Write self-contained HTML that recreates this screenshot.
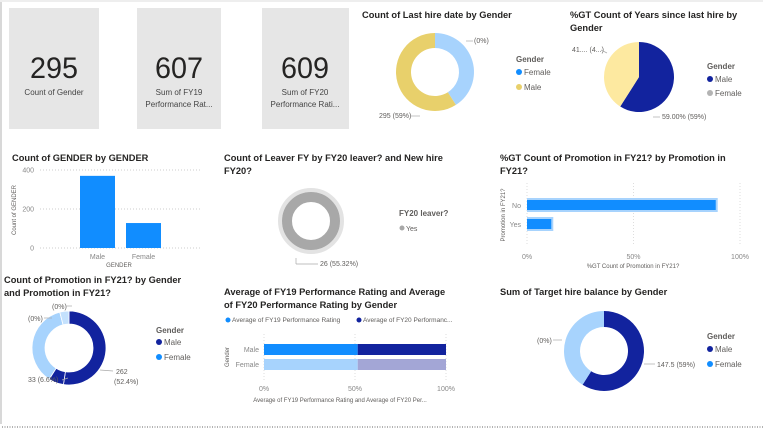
<!DOCTYPE html>
<html><head><meta charset="utf-8"><style>
html,body{margin:0;padding:0;background:#fff;}
svg{display:block;font-family:"Liberation Sans",sans-serif;}
.t{font-size:9.3px;font-weight:bold;fill:#252423;}
.s{font-size:7px;fill:#605e5c;}
.lg{font-size:8px;fill:#605e5c;}
.lt{font-size:8px;font-weight:bold;fill:#605e5c;}
.num{font-size:30px;fill:#252423;}
</style></head><body>
<svg id="c" width="763" height="428" viewBox="0 0 763 428">
<line x1="1" y1="0" x2="1" y2="424" stroke="#d8d8d8" stroke-width="2"/>
<line x1="0" y1="1" x2="763" y2="1" stroke="#eeeeee" stroke-width="2"/>
<line x1="2" y1="427" x2="763" y2="427" stroke="#666" stroke-dasharray="1,1.5"/>
<g>
<rect x="9" y="8" width="90" height="121" fill="#e6e6e6"/>
<text class="num" x="54" y="78" text-anchor="middle" textLength="48" lengthAdjust="spacingAndGlyphs">295</text>
<text x="54" y="95" text-anchor="middle" font-size="8" fill="#444">Count of Gender</text></g>
<g>
<rect x="137" y="8" width="84" height="121" fill="#e6e6e6"/>
<text class="num" x="179" y="78" text-anchor="middle" textLength="48" lengthAdjust="spacingAndGlyphs">607</text>
<text x="179" y="95" text-anchor="middle" font-size="8" fill="#444">Sum of FY19</text>
<text x="179" y="107" text-anchor="middle" font-size="8" fill="#444">Performance Rat...</text></g>
<g>
<rect x="262" y="8" width="87" height="121" fill="#e6e6e6"/>
<text class="num" x="305" y="78" text-anchor="middle" textLength="48" lengthAdjust="spacingAndGlyphs">609</text>
<text x="305" y="95" text-anchor="middle" font-size="8" fill="#444">Sum of FY20</text>
<text x="305" y="107" text-anchor="middle" font-size="8" fill="#444">Performance Rati...</text></g>

<text class="t" x="362" y="18">Count of Last hire date by Gender</text>
<g id="d1"></g>
<text class="s" x="474" y="43">(0%)</text>
<text class="s" x="379" y="118">295 (59%)</text>
<text class="lt" x="516" y="62">Gender</text>
<circle cx="519" cy="72" r="3" fill="#118dff"/><text class="lg" x="524" y="75">Female</text>
<circle cx="519" cy="87" r="3" fill="#e8d06b"/><text class="lg" x="524" y="90">Male</text>

<text class="t" x="570" y="18">%GT Count of Years since last hire by</text>
<text class="t" x="570" y="31">Gender</text>
<g id="d2"></g>
<text class="s" x="572" y="52">41.... (4...)</text>
<text class="s" x="662" y="119">59.00% (59%)</text>
<text class="lt" x="707" y="69">Gender</text>
<circle cx="710" cy="79" r="3" fill="#12239e"/><text class="lg" x="715" y="82">Male</text>
<circle cx="710" cy="93" r="3" fill="#b3b3b3"/><text class="lg" x="715" y="96">Female</text>

<text class="t" x="12" y="161">Count of GENDER by GENDER</text>
<g id="bar1"></g>
<text font-size="6" fill="#605e5c" transform="translate(16,210) rotate(-90)" text-anchor="middle">Count of GENDER</text>
<text font-size="6" fill="#605e5c" x="119" y="267" text-anchor="middle">GENDER</text>

<text class="t" x="224" y="161">Count of Leaver FY by FY20 leaver? and New hire</text>
<text class="t" x="224" y="174">FY20?</text>
<g id="d3"></g>
<text class="s" x="320" y="266">26 (55.32%)</text>
<text class="lt" x="399" y="216">FY20 leaver?</text>
<circle cx="402" cy="228" r="2.5" fill="#a8a8a8"/><text class="s" x="406" y="231">Yes</text>

<text class="t" x="500" y="161">%GT Count of Promotion in FY21? by Promotion in</text>
<text class="t" x="500" y="174">FY21?</text>
<g id="bar2"></g>
<text font-size="6" fill="#605e5c" transform="translate(505,215) rotate(-90)" text-anchor="middle">Promotion in FY21?</text>
<text font-size="6" fill="#605e5c" x="633" y="268" text-anchor="middle">%GT Count of Promotion in FY21?</text>

<text class="t" x="4" y="283">Count of Promotion in FY21? by Gender</text>
<text class="t" x="4" y="296">and Promotion in FY21?</text>
<g id="d4"></g>
<text class="s" x="52" y="309">(0%)</text>
<text class="s" x="28" y="321">(0%)</text>
<text class="s" x="28" y="382">33 (6.6%)</text>
<text class="s" x="116" y="374">262</text>
<text class="s" x="114" y="384">(52.4%)</text>
<text class="lt" x="156" y="333">Gender</text>
<circle cx="159" cy="342" r="3" fill="#12239e"/><text class="lg" x="164" y="345">Male</text>
<circle cx="159" cy="357" r="3" fill="#118dff"/><text class="lg" x="164" y="360">Female</text>

<text class="t" x="224" y="295">Average of FY19 Performance Rating and Average</text>
<text class="t" x="224" y="308">of FY20 Performance Rating by Gender</text>
<circle cx="228" cy="320" r="2.5" fill="#118dff"/><text font-size="6.5" fill="#605e5c" x="232" y="322">Average of FY19 Performance Rating</text>
<circle cx="359" cy="320" r="2.5" fill="#12239e"/><text font-size="6.5" fill="#605e5c" x="363" y="322">Average of FY20 Performanc...</text>
<g id="bar3"></g>
<text font-size="6" fill="#605e5c" transform="translate(229,357) rotate(-90)" text-anchor="middle">Gender</text>
<text font-size="6" fill="#605e5c" x="340" y="402" text-anchor="middle">Average of FY19 Performance Rating and Average of FY20 Per...</text>

<text class="t" x="500" y="295">Sum of Target hire balance by Gender</text>
<g id="d5"></g>
<text class="s" x="537" y="343">(0%)</text>
<text class="s" x="657" y="367">147.5 (59%)</text>
<text class="lt" x="707" y="339">Gender</text>
<circle cx="710" cy="349" r="3" fill="#12239e"/><text class="lg" x="715" y="352">Male</text>
<circle cx="710" cy="364" r="3" fill="#118dff"/><text class="lg" x="715" y="367">Female</text>
</svg>
<script>
const lastHireValues=[205,295];
const lastHireColors=["#a7d3fd","#e8d06b"];
const yearsValues=[59,41];
const yearsColors=["#12239e","#fde9a0"];
const leaverValues=[26];
const promoDonutValues=[262,33,185,20];
const promoDonutColors=["#12239e","#12239e","#a7d3fd","#c4e1fd"];
const targetValues=[147.5,102.5];
const targetColors=["#12239e","#a7d3fd"];
const genderCats=["Male","Female"];
const genderCounts=[370,128];
const genderTicks=[0,200,400];
const promoCats=["No","Yes"];
const promoPct=[88.6,11.4];
const pctTicks=[0,50,100];
const perfCats=["Male","Female"];
const perfFY19=[2.08,2.06];
const perfFY20=[1.96,1.94];
const NS="http://www.w3.org/2000/svg";
function el(p,t,a){const e=document.createElementNS(NS,t);for(const k in a)e.setAttribute(k,a[k]);p.appendChild(e);return e;}
function pt(cx,cy,r,a){return [cx+r*Math.sin(a),cy-r*Math.cos(a)];}
function arc(cx,cy,r0,r1,a0,a1){
 if(a1-a0>=2*Math.PI-1e-6)a1=a0+2*Math.PI-1e-4;
 const L=(a1-a0)>Math.PI?1:0;const p1=pt(cx,cy,r1,a0),p2=pt(cx,cy,r1,a1),p3=pt(cx,cy,r0,a1),p4=pt(cx,cy,r0,a0);
 let d=`M${p1}A${r1},${r1} 0 ${L} 1 ${p2}`;
 d+= r0>0?`L${p3}A${r0},${r0} 0 ${L} 0 ${p4}Z`:`L${cx},${cy}Z`;return d;}
function donut(id,cx,cy,r0,r1,vals,cols,start,sep){
 const g=document.getElementById(id);const tot=vals.reduce((a,b)=>a+b,0);let a=start;
 vals.forEach((v,i)=>{const s=v/tot*2*Math.PI;const p=el(g,"path",{d:arc(cx,cy,r0,r1,a,a+s),fill:cols[i]});
 if(sep){p.setAttribute("stroke","#fff");p.setAttribute("stroke-width","0.8");}
 
 
 a+=s;});}
donut("d1",435,72,24,39,lastHireValues,lastHireColors,0,false);
donut("d2",639,77,0,35,yearsValues,yearsColors,0,false);
donut("d4",69,348,24,37,promoDonutValues,promoDonutColors,0,true);
donut("d5",604,351,24,40,targetValues,targetColors,0,false);
(function(){const g=document.getElementById("d3");
 const o=el(g,"circle",{cx:311,cy:221,r:31,fill:"none",stroke:"#e3e3e3","stroke-width":4});
 
 
 const r=el(g,"circle",{cx:311,cy:221,r:24,fill:"none",stroke:"#a8a8a8","stroke-width":leaverValues[0]>0?10:0});
 
 })();
(function(){const g=document.getElementById("c");
 [[466,41,473,41],[411,116,420,116],[601,50,607,53],[653,117,660,117],[296,258,296,264],[296,264,318,264],
  [66,306,72,306],[44,318,52,318],[62,380,68,378],[100,370,113,371],[553,340,562,340],[644,364,655,364]].forEach(l=>{
  const e=el(g,"line",{x1:l[0],y1:l[1],x2:l[2],y2:l[3],stroke:"#aaa","stroke-width":0.7});
  
  });})();
(function(){const g=document.getElementById("bar1");const y0=248,y1=170,x0=40,x1=202;
 const y=v=>y0-v/400*(y0-y1);const bw=35,xs=[80,126];
 genderTicks.forEach(t=>{const l=el(g,"line",{x1:x0,x2:x1,y1:y(t),y2:y(t),stroke:"#ccc","stroke-dasharray":"1,2"});
  
  
  const tx=el(g,"text",{x:34,y:y(t)+2.5,"text-anchor":"end","font-size":7,fill:"#888"});tx.textContent=t;
  
  });
 genderCats.forEach((c,i)=>{const r=el(g,"rect",{x:xs[i],y:y(genderCounts[i]),width:bw,height:y0-y(genderCounts[i]),fill:"#118dff"});
  
  
  const t=el(g,"text",{x:xs[i]+bw/2,y:259,"text-anchor":"middle","font-size":7,fill:"#888"});t.textContent=c;
  
  });})();
(function(){const g=document.getElementById("bar2");const x0=527,x1=740;const x=v=>x0+v/100*(x1-x0);
 pctTicks.forEach(t=>{const l=el(g,"line",{x1:x(t),x2:x(t),y1:183,y2:246,stroke:"#ddd","stroke-dasharray":"1,2"});
  
  
  const tx=el(g,"text",{x:x(t),y:259,"text-anchor":"middle","font-size":7,fill:"#888"});tx.textContent=t+"%";
  
  });
 const ys=[198,217];
 promoCats.forEach((c,i)=>{const b=el(g,"rect",{x:x0,y:ys[i],width:x(promoPct[i])-x0+2,height:14,fill:"#a7d3fd"});
  
  
  const r=el(g,"rect",{x:x0,y:ys[i]+2,width:x(promoPct[i])-x0,height:10,fill:"#118dff"});
  
  
  const t=el(g,"text",{x:521,y:ys[i]+10,"text-anchor":"end","font-size":7,fill:"#888"});t.textContent=c;
  
  });})();
(function(){const g=document.getElementById("bar3");const x0=264,x1=446;const x=v=>x0+v/100*(x1-x0);
 pctTicks.forEach(t=>{const l=el(g,"line",{x1:x(t),x2:x(t),y1:334,y2:380,stroke:"#ddd","stroke-dasharray":"1,2"});
  
  
  const tx=el(g,"text",{x:x(t),y:391,"text-anchor":"middle","font-size":7,fill:"#888"});tx.textContent=t+"%";
  
  });
 const ys=[344,359];const c19=["#118dff","#a7d3fd"],c20=["#12239e","#a3a6d6"];
 perfCats.forEach((c,i)=>{const p=perfFY19[i]/(perfFY19[i]+perfFY20[i])*100;
  const a=el(g,"rect",{x:x0,y:ys[i],width:x(p)-x0,height:11,fill:c19[i]});
  
  
  const b=el(g,"rect",{x:x(p),y:ys[i],width:x(100)-x(p),height:11,fill:c20[i]});
  
  
  const t=el(g,"text",{x:259,y:ys[i]+8,"text-anchor":"end","font-size":7,fill:"#888"});t.textContent=c;
  
  });})();
</script>
</body></html>
